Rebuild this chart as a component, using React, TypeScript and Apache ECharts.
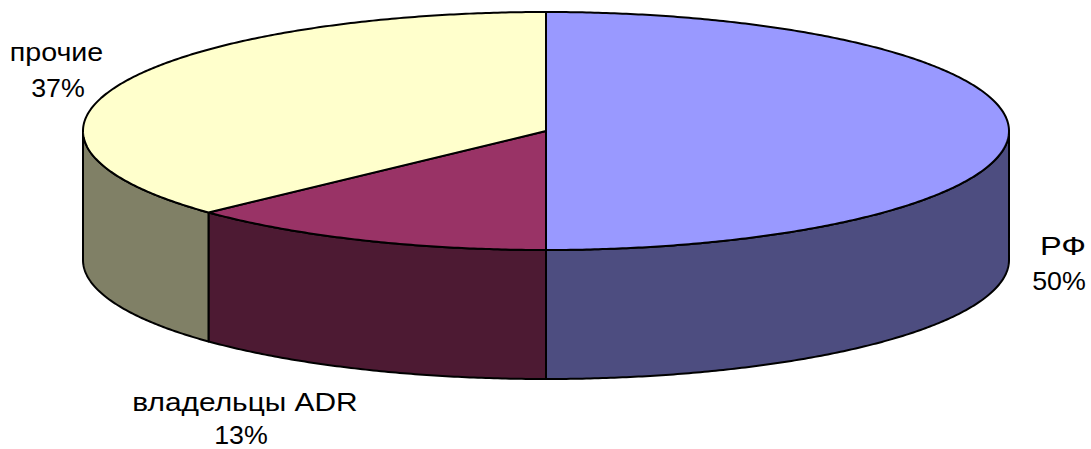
import React, { useEffect, useRef } from "react";
import * as echarts from "echarts";

const categories = ["РФ", "владельцы ADR", "прочие"];
const shares = [50, 13, 37];

const topColors = ["#9999FF", "#993366", "#FFFFCC"];
const sideColors = ["#4D4D80", "#4D1A33", "#808066"];
// [x, y, horizontal stretch] of the name line and of the percent line
const nameAnchors = [
  [1063, 246, 1.25],
  [245, 402, 1.15],
  [56.5, 52, 1.1],
];
const percentAnchors = [
  [1059, 281, 1.03],
  [241, 435.5, 1.03],
  [58, 88, 1.03],
];

const CX = 546;
const CY = 131;
const RX = 463;
const RY = 119;
const DEPTH = 129;
const total = shares.reduce((a, b) => a + b, 0);

const rim = (deg: number, dy = 0): number[] => {
  const r = (deg * Math.PI) / 180;
  return [CX + RX * Math.sin(r), CY - RY * Math.cos(r) + dy];
};
const arc = (from: number, to: number, dy = 0): number[][] => {
  const pts: number[][] = [];
  const n = Math.max(2, Math.ceil(Math.abs(to - from) * 2));
  for (let i = 0; i <= n; i++) pts.push(rim(from + ((to - from) * i) / n, dy));
  return pts;
};

const label = (text: string, a: number[]) => ({
  type: "text",
  x: a[0],
  y: a[1],
  scaleX: a[2],
  style: {
    text,
    fill: "#000",
    font: '26px "Liberation Sans", Arial, sans-serif',
    align: "center",
    verticalAlign: "middle",
  },
});

const renderItem = (params: any, api: any) => {
  const i = params.dataIndex;
  const before = shares.slice(0, i).reduce((a, b) => a + b, 0);
  const start = (before / total) * 360;
  const end = start + (api.value(0) / total) * 360;
  const children: any[] = [];
  const a = Math.max(start, 90);
  const b = Math.min(end, 270);
  const line = { stroke: "#000", lineWidth: 2, lineJoin: "round" };
  if (b > a) {
    children.push({
      type: "polygon",
      shape: { points: [...arc(a, b), ...arc(b, a, DEPTH)] },
      style: { fill: sideColors[i], ...line },
    });
  }
  children.push({
    type: "polygon",
    shape: { points: [[CX, CY], ...arc(start, end)] },
    style: { fill: topColors[i], ...line },
  });
  children.push(label(categories[i], nameAnchors[i]));
  children.push(label(`${api.value(0)}%`, percentAnchors[i]));
  return { type: "group", children };
};

export default function App() {
  const ref = useRef<HTMLDivElement>(null);
  useEffect(() => {
    const chart = echarts.init(ref.current!, undefined, { renderer: "svg" });
    chart.setOption({
      animation: false,
      backgroundColor: "#fff",
      series: [
        {
          type: "custom",
          coordinateSystem: "none",
          clip: false,
          silent: true,
          data: shares.map((v) => [v]),
          renderItem,
        },
      ],
    });
    return () => chart.dispose();
  }, []);
  return <div ref={ref} style={{ position: "absolute", left: 0, top: 0, width: 1091, height: 449 }} />;
}
